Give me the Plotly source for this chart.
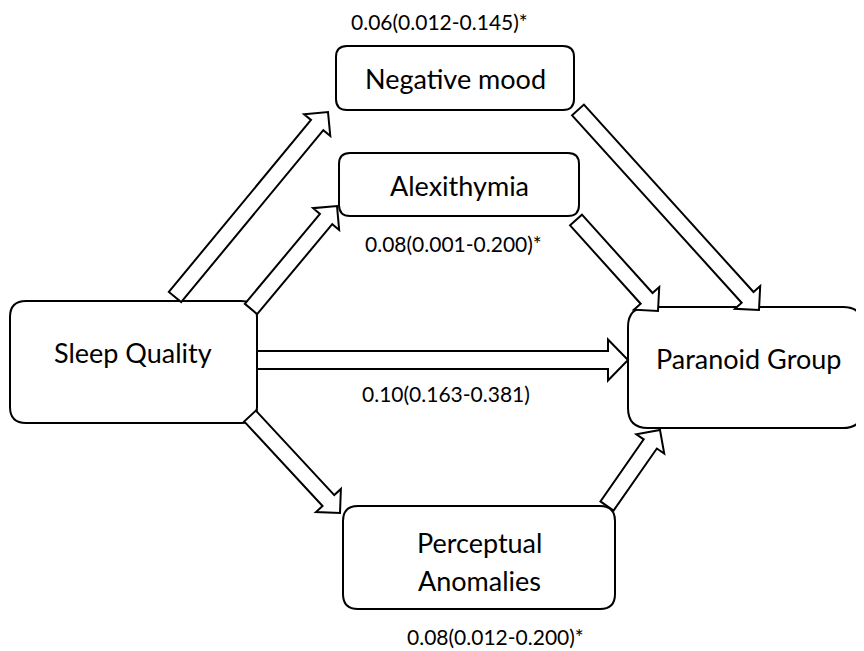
import math
import plotly.graph_objects as go

# ---- diagram content ----
node_labels = ["Sleep Quality", "Negative mood", "Alexithymia", "Perceptual", "Anomalies", "Paranoid Group"]
node_text_pos = [(133, 352), (455, 78), (459, 185), (479, 542), (479, 580), (748, 358)]

# boxes: x0, x1, y0, y1, corner radius (pixel layout coordinates, y downward)
node_boxes = [
    (10, 257, 301, 423, 16),
    (336, 574, 46, 110, 11),
    (339, 579, 153, 216, 11),
    (343, 615, 506, 609, 15),
    (628, 863, 307, 428, 20),
]

effect_labels = ["0.06(0.012-0.145)*", "0.08(0.001-0.200)*", "0.10(0.163-0.381)", "0.08(0.012-0.200)*"]
effect_label_pos = [(439, 21), (453, 243), (446, 393), (495, 636)]

# arrows: tail(x,y), tip(x,y), shaft width, head width, head length
arrows = [
    ((175, 297), (328, 112), 16, 34, 17),
    ((251, 309), (337, 206), 16, 34, 17),
    ((257, 360), (628, 360), 18, 41, 20),
    ((578, 110), (759, 310), 16, 34, 17),
    ((576, 220), (658, 311), 16, 34, 17),
    ((250, 416), (340, 513), 16, 34, 17),
    ((607, 506), (660, 430), 16, 34, 17),
]

# page body has an 8px margin: the figure starts at (8, 8) in the window
OFF = 8
W, H = 864, 651
FONT = "Lato, 'Open Sans', sans-serif"


def rounded_rect(x0, x1, y0, y1, r):
    return (f"M {x0+r},{y0} L {x1-r},{y0} Q {x1},{y0} {x1},{y0+r} "
            f"L {x1},{y1-r} Q {x1},{y1} {x1-r},{y1} L {x0+r},{y1} "
            f"Q {x0},{y1} {x0},{y1-r} L {x0},{y0+r} Q {x0},{y0} {x0+r},{y0} Z")


def arrow_path(tail, tip, sw, hw, hl):
    (x0, y0), (x1, y1) = tail, tip
    dx, dy = x1 - x0, y1 - y0
    L = math.hypot(dx, dy)
    ux, uy = dx / L, dy / L
    px, py = -uy, ux
    bx, by = x1 - ux * hl, y1 - uy * hl
    pts = [
        (x0 + px * sw / 2, y0 + py * sw / 2),
        (bx + px * sw / 2, by + py * sw / 2),
        (bx + px * hw / 2, by + py * hw / 2),
        (x1, y1),
        (bx - px * hw / 2, by - py * hw / 2),
        (bx - px * sw / 2, by - py * sw / 2),
        (x0 - px * sw / 2, y0 - py * sw / 2),
    ]
    return "M " + " L ".join(f"{x:.2f},{y:.2f}" for x, y in pts) + " Z"


fig = go.Figure()
fig.add_trace(go.Scatter(x=[OFF, W], y=[OFF, H], mode="markers", marker=dict(opacity=0),
                         hoverinfo="skip", showlegend=False))

shapes = []
for (x0, x1, y0, y1, r) in node_boxes:
    shapes.append(dict(type="path", path=rounded_rect(x0, x1, y0, y1, r), xref="x", yref="y",
                       line=dict(color="black", width=2), fillcolor="white", layer="above"))
for (tail, tip, sw, hw, hl) in arrows:
    shapes.append(dict(type="path", path=arrow_path(tail, tip, sw, hw, hl), xref="x", yref="y",
                       line=dict(color="black", width=2), fillcolor="white", layer="above"))

annotations = []
for lab, pos in zip(node_labels, node_text_pos):
    annotations.append(dict(x=pos[0], y=pos[1], text=lab, showarrow=False, xref="x", yref="y",
                            font=dict(family=FONT, size=27, color="black")))
for lab, pos in zip(effect_labels, effect_label_pos):
    annotations.append(dict(x=pos[0], y=pos[1], text=lab, showarrow=False, xref="x", yref="y",
                            borderpad=0, font=dict(family=FONT, size=21, color="black")))

fig.update_layout(
    width=W - OFF, height=H - OFF, margin=dict(l=0, r=0, t=0, b=0),
    paper_bgcolor="white", plot_bgcolor="white",
    xaxis=dict(range=[OFF, W], visible=False, fixedrange=True),
    yaxis=dict(range=[H, OFF], visible=False, fixedrange=True),
    shapes=shapes, annotations=annotations, showlegend=False,
)
fig.write_html("out.html")
